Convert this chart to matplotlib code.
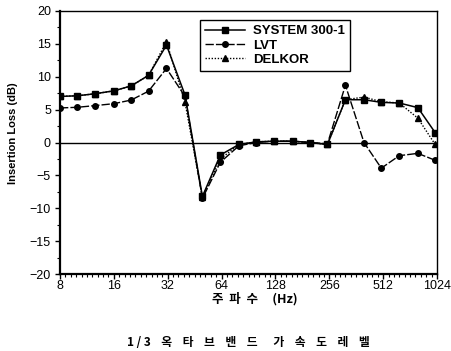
import numpy as np
import matplotlib
matplotlib.use("Agg")
import matplotlib.pyplot as plt
from matplotlib.ticker import FixedLocator, NullFormatter, MultipleLocator

plt.rcParams['font.family'] = ['Liberation Sans', 'Noto Sans CJK KR', 'DejaVu Sans']

# 1/3 octave band centre frequencies (Hz)
freqs = [8, 10, 12.5, 16, 20, 25, 31.5, 40, 50, 63, 80, 100, 125, 160, 200,
         250, 315, 400, 500, 630, 800, 1000]

# Insertion loss per system (dB)
system_300 = [7.0, 7.1, 7.4, 7.85, 8.6, 10.2, 14.8, 7.2, -8.2, -1.9, -0.3, 0.1,
              0.2, 0.2, 0.0, -0.3, 6.5, 6.5, 6.1, 6.0, 5.3, 1.5]
lvt = [5.25, 5.35, 5.6, 5.9, 6.45, 7.8, 11.25, 7.0, -8.5, -3.0, -0.5, 0.0,
       0.2, 0.2, 0.0, -0.2, 8.7, 0.0, -3.9, -2.0, -1.65, -2.7]
delkor = [7.0, 7.1, 7.4, 7.85, 8.6, 10.2, 15.3, 6.1, -8.3, -2.5, -0.3, 0.1,
          0.2, 0.2, 0.0, -0.3, 6.5, 6.9, 6.2, 6.0, 3.7, -0.3]

x_ticks = [8, 16, 32, 64, 128, 256, 512, 1024]
y_ticks = [-20, -15, -10, -5, 0, 5, 10, 15, 20]

fig = plt.figure(figsize=(4.51, 3.51), dpi=100)
ax = fig.add_axes([0.133, 0.219, 0.836, 0.750])

ax.axhline(0, color='black', lw=1.0, zorder=1)

ax.plot(freqs, system_300, color='black', lw=1.1, marker='s', ms=4,
        label='SYSTEM 300-1', zorder=3)
ax.plot(freqs, lvt, color='black', lw=1.0, ls=(0, (6, 1.5)), marker='o', ms=4,
        label='LVT', zorder=3)
ax.plot(freqs, delkor, color='black', lw=1.0, ls=(0, (1, 1.2)), marker='^', ms=4.5,
        label='DELKOR', zorder=3)

ax.set_xscale('log', base=2)
ax.set_xlim(8, 1024)
ax.set_ylim(-20, 20)
ax.xaxis.set_major_locator(FixedLocator(x_ticks))
ax.set_xticklabels([str(v) for v in x_ticks])
ax.xaxis.set_minor_locator(FixedLocator([8 * 2 ** (k / 10) for k in range(71)]))
ax.xaxis.set_minor_formatter(NullFormatter())
ax.yaxis.set_major_locator(FixedLocator(y_ticks))
ax.yaxis.set_minor_locator(MultipleLocator(2.5))

ax.tick_params(which='major', direction='out', length=3.5, width=1.0, labelsize=9)
ax.tick_params(axis='x', which='major', pad=1)
ax.tick_params(axis='y', which='major', pad=3)
ax.tick_params(which='minor', direction='out', length=2.2, width=0.8)

for side in ['left', 'bottom']:
    ax.spines[side].set_linewidth(1.6)
for side in ['top', 'right']:
    ax.spines[side].set_linewidth(1.0)

leg = ax.legend(loc='upper left', bbox_to_anchor=(0.371, 0.966), borderaxespad=0,
                fancybox=False, edgecolor='black', framealpha=1,
                prop={'weight': 'bold', 'size': 9.5}, handlelength=3.0,
                handletextpad=0.6, labelspacing=0.15, borderpad=0.4)
leg.get_frame().set_linewidth(1.0)

fig.text(0.029, 0.62, 'Insertion Loss (dB)', rotation=90, ha='center', va='center',
         fontsize=8, fontweight='bold')
fig.text(0.565, 0.148, '주  파  수     (Hz)', ha='center', va='center',
         fontsize=9, fontweight='bold', family=['Noto Sans CJK KR', 'DejaVu Sans'])
fig.text(0.55, 0.023, '1 / 3    옥    타    브    밴    드      가    속    도    레    벨',
         ha='center', va='center', fontsize=8.5, fontweight='bold',
         family=['Noto Sans CJK KR', 'DejaVu Sans'])

fig.savefig('out.png', dpi=100)
